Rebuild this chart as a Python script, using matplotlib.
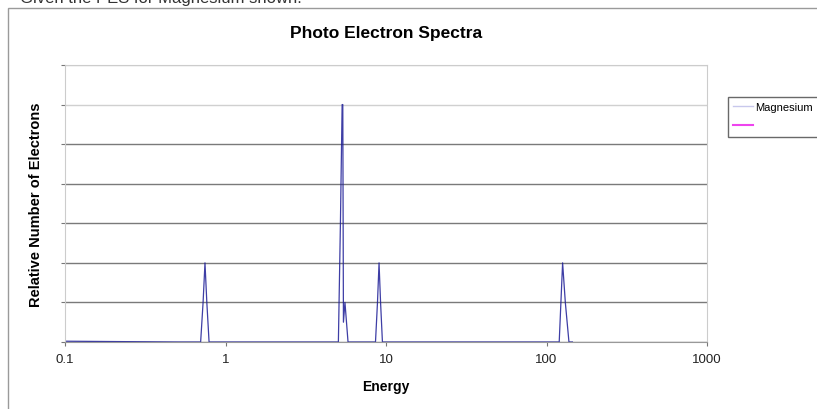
import matplotlib
matplotlib.use("Agg")
import matplotlib.pyplot as plt
from matplotlib.lines import Line2D
from matplotlib.patches import Rectangle

plt.rcParams['font.family'] = ['Liberation Sans', 'DejaVu Sans']

# Magnesium photo electron spectrum (energy, relative number of electrons)
energy = [0.1, 0.5, 0.70, 0.725, 0.745, 0.765, 0.79, 1.0,
          5.05, 5.2, 5.33, 5.38, 5.43, 5.55, 5.8,
          8.6, 8.85, 9.05, 9.25, 9.5, 12.0,
          112.0, 120.0, 126.0, 131.0, 138.0, 145.0]
electrons = [0.02, 0.0, 0.0, 1.0, 2.0, 1.0, 0.0, 0.0,
             0.0, 3.0, 6.0, 6.0, 0.5, 1.0, 0.0,
             0.0, 1.0, 2.0, 1.0, 0.0, 0.0,
             0.0, 0.0, 2.0, 1.0, 0.0, 0.0]

series_names = ['Magnesium', '']
y_ticks = [0, 1, 2, 3, 4, 5, 6, 7]
x_ticks = [0.1, 1, 10, 100, 1000]
x_labels = ['0.1', '1', '10', '100', '1000']

fig = plt.figure(figsize=(8.17, 4.10), dpi=100)

# outer chart frame
fig.patches.append(Rectangle((8 / 817, -0.05), 1.0, 1 - 9 / 410 + 0.05,
                             transform=fig.transFigure, fill=False,
                             edgecolor='#9a9a9a', linewidth=1.0))
fig.text(0.025, 1 + 2 / 410, 'Given the PES for Magnesium shown.', fontsize=12,
         color='#333333', va='center')

ax = fig.add_axes([65 / 817, 1 - 343 / 410, (707 - 65) / 817, (343 - 66) / 410])
ax.plot(energy, electrons, color='#1c1c96', linewidth=0.9, alpha=0.85)

ax.set_xscale('log')
ax.set_xlim(0.1, 1000)
ax.set_ylim(0, 7)
ax.set_xticks(x_ticks)
ax.set_xticklabels(x_labels)
ax.minorticks_off()
ax.set_yticks(y_ticks)
ax.set_yticklabels([])
ax.tick_params(axis='x', length=3, color='#777777', labelsize=9.5, pad=5,
               labelcolor='#222222')
ax.tick_params(axis='y', length=3, color='#777777')

ax.yaxis.grid(True, color='#7a7a7a', linewidth=1.0)
for i, gl in enumerate(ax.get_ygridlines()):
    if y_ticks[i] >= 6:
        gl.set_color('#d0d0d0')
ax.set_axisbelow(True)

for side in ['top', 'right', 'left']:
    ax.spines[side].set_color('#cccccc')
ax.spines['bottom'].set_color('#999999')

ax.set_title('Photo Electron Spectra', fontsize=12.5, fontweight='bold', pad=20)
ax.set_xlabel('Energy', fontsize=10, fontweight='bold', labelpad=10)
ax.set_ylabel('Relative Number of Electrons', fontsize=10.5, fontweight='bold', labelpad=9)

handles = [Line2D([], [], color='#c8c8ec', linewidth=1.0),
           Line2D([], [], color='#ee44ee', linewidth=1.5)]
leg = fig.legend(handles, series_names, loc='upper left',
                 bbox_to_anchor=(722 / 817, 1 - 92 / 410), fontsize=8,
                 frameon=True, fancybox=False, handlelength=1.8,
                 borderpad=0.5, labelspacing=0.8, handletextpad=0.2)
leg.get_frame().set_edgecolor('#444444')
leg.get_frame().set_linewidth(1.0)

fig.savefig('out.png', dpi=100)
